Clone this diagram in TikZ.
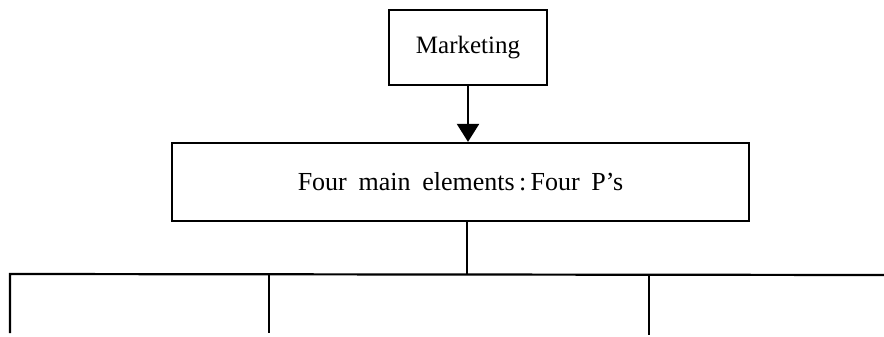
\documentclass[tikz,border=0pt]{standalone}
\usepackage{fontspec}
\setmainfont{Liberation Serif}
\usetikzlibrary{arrows.meta}
\begin{document}
\begin{tikzpicture}[x=0.5pt,y=-0.5pt,
  line width=1.1pt,
  box/.style={draw, rectangle, inner sep=0pt, font=\fontsize{12.5}{15}\selectfont},
  link/.style={draw, line width=1.1pt},
  feed/.style={link, -{Triangle[width=11pt,length=9pt]}}]
  \useasboundingbox (0,0) rectangle (884,337);
  % top box
  \node[box, minimum width=79pt, minimum height=37.5pt] (mkt) at (468,47.5) {Marketing};
  % the four elements box
  \node[box, minimum width=288.5pt, minimum height=39pt] (fourp) at (460.5,182)
    {\raisebox{-5pt}{\fontsize{13}{15}\selectfont Four\hspace{0.45em}main\hspace{0.45em}elements\,:\,Four\hspace{0.45em}P's}};
  \draw[feed] (mkt.south) -- (mkt.south |- fourp.north);
  % branching below
  \coordinate (stubtop) at (467,221);
  \coordinate (bus) at (467,274);
  \coordinate (busL) at (10,274);
  \coordinate (busR) at (884,275);
  \coordinate (d1) at (10,333);
  \coordinate (d2a) at (269,274);
  \coordinate (d2) at (269,333);
  \coordinate (d3a) at (649,275);
  \coordinate (d3) at (649,335);
  \draw[link] (stubtop) -- (bus);
  \draw[link] (d1) -- (busL) -- (busR);
  \draw[link] (d2a) -- (d2);
  \draw[link] (d3a) -- (d3);
\end{tikzpicture}
\end{document}
